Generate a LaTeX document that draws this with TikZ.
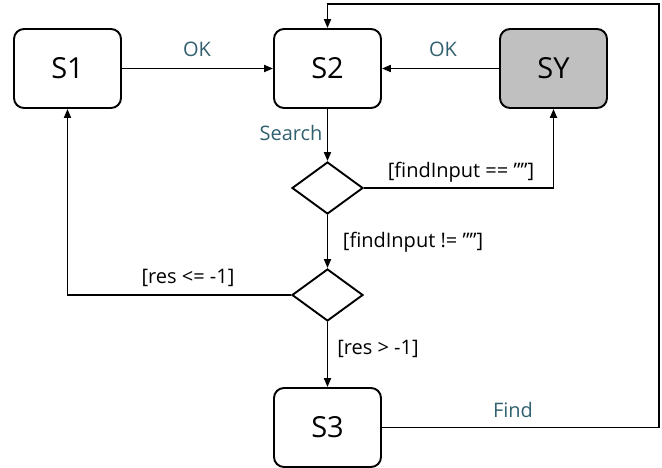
\documentclass[tikz,border=0pt]{standalone}
\usepackage{fontspec}
\setmainfont{Open Sans}
\usetikzlibrary{shapes.geometric,arrows.meta}
\definecolor{teal1}{HTML}{31606F}
\definecolor{syfill}{HTML}{C0C0C0}
\begin{document}
\begin{tikzpicture}[x=1pt,y=-1pt,
  state/.style={draw,line width=1.9pt,rounded corners=10pt,minimum width=107pt,minimum height=79pt,inner sep=0pt,font=\fontsize{29}{34}\selectfont},
  dec/.style={draw,line width=1.9pt,diamond,aspect=1.365,minimum width=71pt,minimum height=52pt,inner sep=0pt},
  conn/.style={line width=1.9pt,-{Triangle[length=9pt,width=7pt]}},
  ev/.style={text=teal1,font=\fontsize{20}{23}\selectfont,inner sep=0pt},
  grd/.style={font=\fontsize{20}{23}\selectfont,inner sep=0pt}]
\useasboundingbox (0,0) rectangle (662,468);
\node[state] (s1) at (67.5,68.5) {S1};
\node[state] (s2) at (327.5,68.5) {S2};
\node[state,fill=syfill] (sy) at (553.5,68.5) {SY};
\node[state] (s3) at (327.5,427.5) {S3};
\node[dec] (d1) at (327.5,188) {};
\node[dec] (d2) at (327.5,295) {};
\coordinate (tr) at (659,4);
\draw[conn] (s1) -- (s2);
\draw[conn] (sy) -- (s2);
\draw[conn] (s2) -- (d1);
\draw[conn] (d1) -- (d2);
\draw[conn] (d2) -- (s3);
\draw[conn] (d1.east) -| (sy.south);
\draw[conn] (d2.west) -| (s1.south);
\draw[conn] (s3.east) -- (s3.east -| tr) -- (tr) -- (tr -| s2.north) -- (s2.north);
\node[ev] at (197,49) {OK};
\node[ev] at (443,49) {OK};
\node[ev] at (291,133) {Search};
\node[ev] at (513,410) {Find};
\node[grd] at (461,172) {[findInput == ””]};
\node[grd] at (413,242) {[findInput != ””]};
\node[grd] at (188,278) {[res <= -1]};
\node[grd] at (378,349) {[res > -1]};
\end{tikzpicture}
\end{document}
